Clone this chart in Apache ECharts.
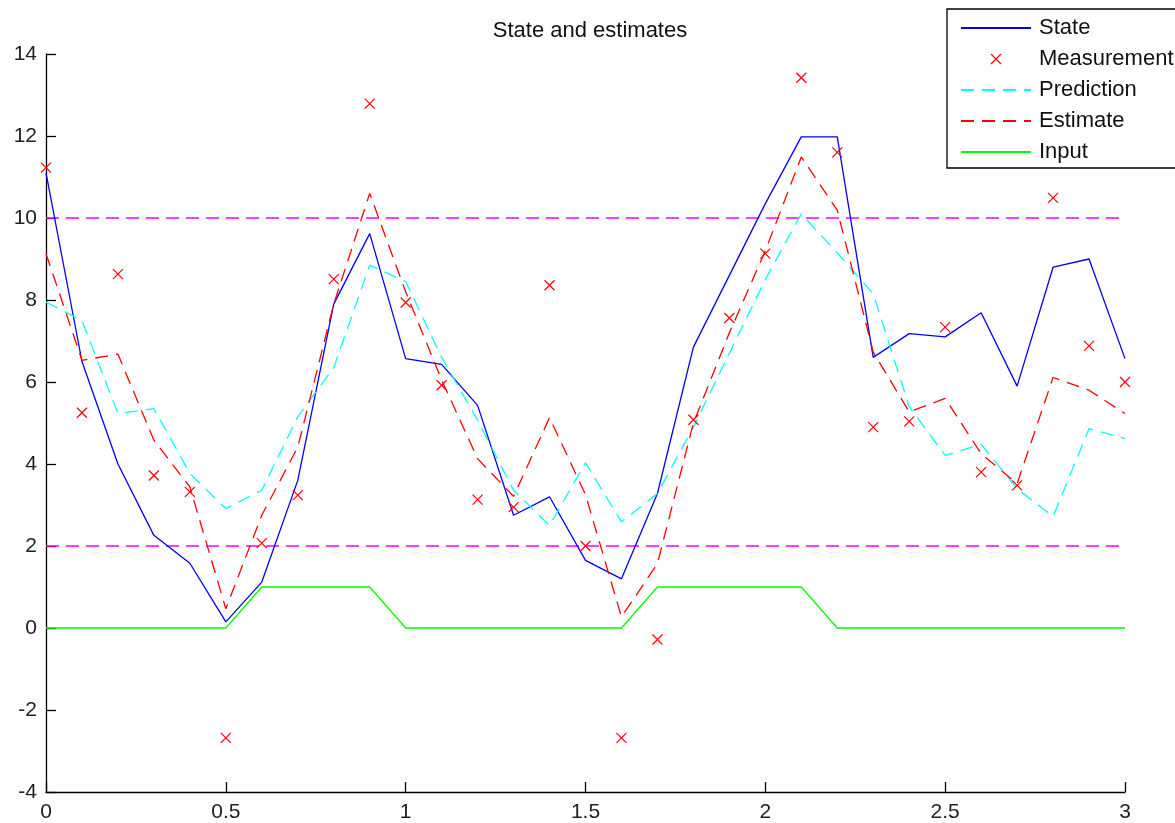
<!DOCTYPE html>
<html>
<head>
<meta charset="utf-8">
<script src="https://cdn.jsdelivr.net/npm/echarts@6.0.0/dist/echarts.min.js"></script>
<style>
html, body { margin: 0; padding: 0; background: #fff; }
#chart { width: 1175px; height: 823px; }
</style>
</head>
<body>
<div id="chart"></div>
<script>
// time steps
var t = [0, 0.1, 0.2, 0.3, 0.4, 0.5, 0.6, 0.7, 0.8, 0.9, 1.0, 1.1, 1.2, 1.3, 1.4, 1.5,
         1.6, 1.7, 1.8, 1.9, 2.0, 2.1, 2.2, 2.3, 2.4, 2.5, 2.6, 2.7, 2.8, 2.9, 3.0];
var state = [11.1, 6.5, 4.0, 2.26, 1.58, 0.15, 1.12, 3.6, 7.9, 9.62, 6.57, 6.43, 5.43, 2.75, 3.2, 1.65,
             1.2, 3.28, 6.85, 8.6, 10.35, 11.98, 11.98, 6.6, 7.18, 7.1, 7.69, 5.9, 8.8, 9.0, 6.57];
var measurement = [11.23, 5.25, 8.63, 3.72, 3.32, -2.68, 2.07, 3.24, 8.51, 12.79, 7.94, 5.92, 3.13, 2.95, 8.36, 2.0,
                   -2.68, -0.28, 5.08, 7.56, 9.13, 13.42, 11.6, 4.9, 5.04, 7.34, 3.8, 3.48, 10.49, 6.88, 6.0];
var prediction = [7.95, 7.5, 5.23, 5.35, 3.77, 2.91, 3.36, 5.15, 6.35, 8.85, 8.45, 6.6, 5.07, 3.36, 2.5, 4.03,
                  2.59, 3.28, 4.9, 6.7, 8.5, 10.1, 9.15, 8.15, 5.4, 4.21, 4.48, 3.4, 2.72, 4.86, 4.62];
var estimate = [9.13, 6.53, 6.68, 4.58, 3.44, 0.47, 2.75, 4.41, 7.9, 10.6, 8.2, 6.05, 4.13, 3.21, 5.13, 3.25,
                0.27, 1.57, 5.0, 7.2, 9.2, 11.49, 10.19, 6.73, 5.27, 5.6, 4.25, 3.52, 6.11, 5.8, 5.23];
var input = [0, 0, 0, 0, 0, 0, 1, 1, 1, 1, 0, 0, 0, 0, 0, 0,
             0, 1, 1, 1, 1, 1, 0, 0, 0, 0, 0, 0, 0, 0, 0];
// limits drawn as dashed magenta lines
var boundX = [0, 3];
var upperBound = [10, 10];
var lowerBound = [2, 2];

function pairs(xs, ys) {
    var out = [];
    for (var i = 0; i < xs.length; i++) {
        out.push([xs[i], ys[i]]);
    }
    return out;
}

var font = 'Liberation Sans, Arial, sans-serif';
var crossPath = 'path://M0,0L10,10M10,0L0,10';

var myChart = echarts.init(document.getElementById('chart'));
var option = {
    backgroundColor: '#fff',
    animation: false,
    title: {
        text: 'State and estimates',
        left: 585,
        textAlign: 'center',
        top: 15,
        textStyle: { fontFamily: font, fontSize: 22, fontWeight: 'normal', color: '#111' }
    },
    legend: {
        orient: 'vertical',
        left: 947,
        top: 9,
        padding: [8, 8, 5, 13],
        itemGap: 9,
        itemWidth: 70,
        itemHeight: 10,
        borderColor: '#000',
        borderWidth: 1.3,
        backgroundColor: '#fff',
        itemStyle: { opacity: 0 },   // hide the dot line series put in the legend
        textStyle: { fontFamily: font, fontSize: 22, color: '#111', padding: [0, 0, 0, 3] },
        data: [
            'State',
            { name: 'Measurement', icon: crossPath, itemStyle: { opacity: 1, color: 'none', borderColor: '#ff0000', borderWidth: 1.2 } },
            'Prediction',
            'Estimate',
            'Input'
        ]
    },
    grid: {
        left: 46,
        right: 50,
        top: 54,
        bottom: 31,
        containLabel: false
    },
    xAxis: {
        type: 'value',
        min: 0,
        max: 3,
        interval: 0.5,
        axisLine: { onZero: false, lineStyle: { color: '#000', width: 1.3 } },
        axisTick: { inside: true, length: 10, lineStyle: { color: '#000', width: 1.3 } },
        axisLabel: { fontFamily: font, fontSize: 21, color: '#222', margin: 10 },
        splitLine: { show: false }
    },
    yAxis: {
        type: 'value',
        min: -4,
        max: 14,
        interval: 2,
        axisLine: { show: true, onZero: false, lineStyle: { color: '#000', width: 1.3 } },
        axisTick: { show: true, inside: true, length: 10, lineStyle: { color: '#000', width: 1.3 } },
        axisLabel: { fontFamily: font, fontSize: 21, color: '#222', margin: 9 },
        splitLine: { show: false }
    },
    series: [
        {
            name: 'upper',
            type: 'line',
            symbol: 'none',
            data: pairs(boundX, upperBound),
            lineStyle: { color: '#ff00ff', width: 1.3, type: [13, 7] },
            z: 1
        },
        {
            name: 'lower',
            type: 'line',
            symbol: 'none',
            data: pairs(boundX, lowerBound),
            lineStyle: { color: '#ff00ff', width: 1.3, type: [13, 7] },
            z: 1
        },
        {
            name: 'State',
            type: 'line',
            symbol: 'none',
            data: pairs(t, state),
            itemStyle: { color: '#0000ff' },
            lineStyle: { color: '#0000ff', width: 1.3 },
            z: 3
        },
        {
            name: 'Measurement',
            type: 'scatter',
            symbol: crossPath,
            symbolSize: 10,
            symbolKeepAspect: true,
            data: pairs(t, measurement),
            itemStyle: { color: 'none', borderColor: '#ff0000', borderWidth: 1.2, opacity: 1 },
            z: 4
        },
        {
            name: 'Prediction',
            type: 'line',
            symbol: 'none',
            data: pairs(t, prediction),
            itemStyle: { color: '#00ffff' },
            lineStyle: { color: '#00ffff', width: 1.3, type: [13, 8] },
            z: 3
        },
        {
            name: 'Estimate',
            type: 'line',
            symbol: 'none',
            data: pairs(t, estimate),
            itemStyle: { color: '#ff0000' },
            lineStyle: { color: '#ff0000', width: 1.3, type: [13, 8] },
            z: 3
        },
        {
            name: 'Input',
            type: 'line',
            symbol: 'none',
            data: pairs(t, input),
            itemStyle: { color: '#00ff00' },
            lineStyle: { color: '#00ff00', width: 1.3 },
            z: 3
        }
    ]
};
myChart.setOption(option);
</script>
</body>
</html>
